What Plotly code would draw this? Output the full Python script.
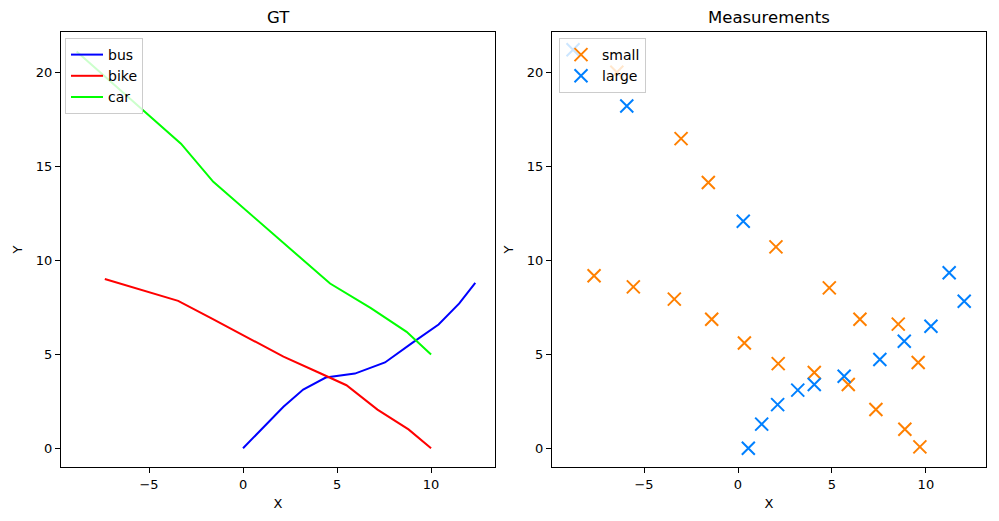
import plotly.graph_objects as go

# ---- GT trajectories ----
bus_x = [0.0, 1.1, 2.15, 3.2, 4.4, 5.95, 7.55, 9.0, 10.4, 11.5, 12.35]
bus_y = [0.0, 1.1, 2.2, 3.12, 3.76, 3.97, 4.56, 5.6, 6.58, 7.7, 8.8]

bike_x = [-7.35, -5.4, -3.45, -1.6, 0.3, 2.15, 3.9, 5.5, 7.15, 8.8, 10.0]
bike_y = [9.0, 8.42, 7.84, 6.87, 5.86, 4.87, 4.08, 3.35, 2.05, 1.0, 0.0]

car_x = [-8.85, -7.1, -5.4, -3.3, -1.58, 0.45, 2.5, 4.63, 6.8, 8.7, 10.0]
car_y = [21.1, 19.55, 18.05, 16.2, 14.17, 12.4, 10.6, 8.76, 7.45, 6.19, 4.98]

# ---- Measurements ----
small_x = [-7.66, -5.57, -3.39, -1.4, 0.34, 2.14, 4.06, 5.87, 7.34, 8.88, 9.68,
           -6.45, -3.03, -1.58, 2.02, 4.86, 6.49, 8.53, 9.59]
small_y = [9.17, 8.58, 7.93, 6.86, 5.6, 4.5, 4.03, 3.39, 2.06, 1.01, 0.07,
           20.0, 16.47, 14.13, 10.71, 8.53, 6.86, 6.6, 4.56]

large_x = [0.55, 1.26, 2.11, 3.18, 4.06, 5.65, 7.55, 8.85, 10.27, 11.24, 12.04,
           -8.78, -5.92, 0.28]
large_y = [0.0, 1.28, 2.32, 3.09, 3.39, 3.83, 4.72, 5.69, 6.49, 9.33, 7.82,
           21.2, 18.2, 12.07]

tick_vals = [-5, 0, 5, 10]
tick_text = ["\u22125", "0", "5", "10"]
ytick_vals = [0, 5, 10, 15, 20]

FONT = "DejaVu Sans"

fig = go.Figure()

fig.add_trace(go.Scatter(x=bus_x, y=bus_y, mode="lines", name="bus",
                         line=dict(color="#0000ff", width=2), xaxis="x", yaxis="y", legend="legend"))
fig.add_trace(go.Scatter(x=bike_x, y=bike_y, mode="lines", name="bike",
                         line=dict(color="#ff0000", width=2), xaxis="x", yaxis="y", legend="legend"))
fig.add_trace(go.Scatter(x=car_x, y=car_y, mode="lines", name="car",
                         line=dict(color="#00ff00", width=2), xaxis="x", yaxis="y", legend="legend"))

fig.add_trace(go.Scatter(x=small_x, y=small_y, mode="markers", name="small",
                         marker=dict(symbol="x-thin-open", size=13, color="#ff8000",
                                     line=dict(color="#ff8000", width=2)),
                         xaxis="x2", yaxis="y2", legend="legend2"))
fig.add_trace(go.Scatter(x=large_x, y=large_y, mode="markers", name="large",
                         marker=dict(symbol="x-thin-open", size=13, color="#0080ff",
                                     line=dict(color="#0080ff", width=2)),
                         xaxis="x2", yaxis="y2", legend="legend2"))

axis_common = dict(showgrid=False, zeroline=False, showline=True, linecolor="black",
                   linewidth=1, mirror=True, ticks="outside", ticklen=5, tickwidth=1,
                   tickcolor="black", tickfont=dict(family=FONT, size=13, color="black"))

ydom = [1 - 467 / 521, 1 - 32 / 521]

fig.update_layout(
    width=999, height=521,
    margin=dict(l=0, r=0, t=0, b=0),
    paper_bgcolor="white", plot_bgcolor="white",
    font=dict(family=FONT, size=13, color="black"),
    xaxis=dict(domain=[61 / 999, 495 / 999], range=[-9.68, 13.4], tickvals=tick_vals,
               ticktext=tick_text, anchor="y",
               title=dict(text="X", font=dict(family=FONT, size=13), standoff=8), **axis_common),
    yaxis=dict(domain=ydom, range=[-1.0, 22.14], tickvals=ytick_vals, anchor="x",
               title=dict(text="Y", font=dict(family=FONT, size=13), standoff=10), **axis_common),
    xaxis2=dict(domain=[552 / 999, 986 / 999], range=[-9.9, 13.2], tickvals=tick_vals,
                ticktext=tick_text, anchor="y2",
                title=dict(text="X", font=dict(family=FONT, size=13), standoff=8), **axis_common),
    yaxis2=dict(domain=ydom, range=[-1.0, 22.14], tickvals=ytick_vals, anchor="x2",
                title=dict(text="Y", font=dict(family=FONT, size=13), standoff=10), **axis_common),
    legend=dict(x=65 / 999, y=1 - 38 / 521, xanchor="left", yanchor="top",
                bgcolor="rgba(255,255,255,0.8)", bordercolor="#cccccc", borderwidth=1,
                font=dict(family=FONT, size=14), tracegroupgap=0, itemwidth=32),
    legend2=dict(x=559 / 999, y=1 - 38 / 521, xanchor="left", yanchor="top",
                 bgcolor="rgba(255,255,255,0.8)", bordercolor="#cccccc", borderwidth=1,
                 font=dict(family=FONT, size=14), tracegroupgap=0, itemwidth=32),
    annotations=[
        dict(text="GT", x=(61 + 495) / 2 / 999, y=1 - 18 / 521, xref="paper", yref="paper",
             showarrow=False, font=dict(family=FONT, size=16.5), xanchor="center", yanchor="middle"),
        dict(text="Measurements", x=(552 + 986) / 2 / 999, y=1 - 18 / 521, xref="paper", yref="paper",
             showarrow=False, font=dict(family=FONT, size=16.5), xanchor="center", yanchor="middle"),
    ],
)

fig.write_html("out.html")
